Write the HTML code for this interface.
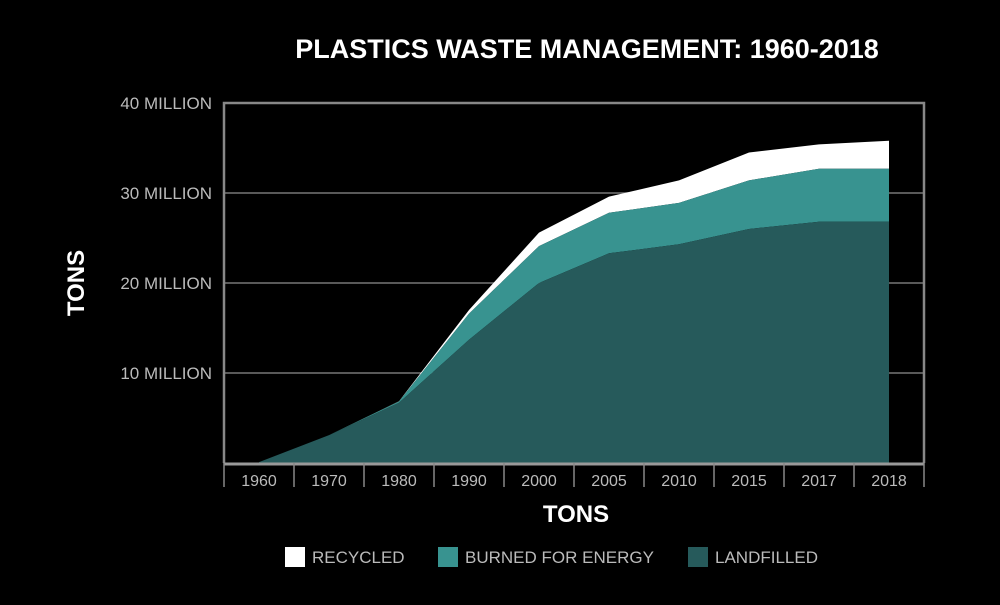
<!DOCTYPE html>
<html><head><meta charset="utf-8"><style>
body{margin:0;background:#000;width:1000px;height:600px;overflow:hidden;font-family:"Liberation Sans",sans-serif}
</style></head><body>
<svg width="1000" height="600" xmlns="http://www.w3.org/2000/svg">
<text x="587" y="58" fill="#fff" font-size="27" font-weight="bold" text-anchor="middle">PLASTICS WASTE MANAGEMENT: 1960-2018</text>
<g id="grid"></g>
<g id="areas"></g>
<g id="axes"></g>
<text transform="translate(84,283) rotate(-90)" fill="#fff" font-size="24" font-weight="bold" text-anchor="middle">TONS</text>
<text x="576" y="522" fill="#fff" font-size="24" font-weight="bold" text-anchor="middle">TONS</text>
<g>
<rect x="285" y="547" width="20" height="20" fill="#fff"/>
<text x="312" y="563" fill="#bbb" font-size="17">RECYCLED</text>
<rect x="438" y="547" width="20" height="20" fill="#389390"/>
<text x="465" y="563" fill="#bbb" font-size="17">BURNED FOR ENERGY</text>
<rect x="688" y="547" width="20" height="20" fill="#265a5b"/>
<text x="715" y="563" fill="#bbb" font-size="17">LANDFILLED</text>
</g>
</svg>
<script>
const categories=["1960","1970","1980","1990","2000","2005","2010","2015","2017","2018"];
const landfilled=[0.1,3.1,6.7,13.7,20.0,23.3,24.3,26.0,26.8,26.8];
const burned=[0,0,0.14,2.9,4.1,4.5,4.6,5.4,5.9,5.9];
const recycled=[0,0,0.02,0.4,1.5,1.8,2.5,3.1,2.7,3.1];
const yTicks=[10,20,30,40];
const yTickLabels=["10 MILLION","20 MILLION","30 MILLION","40 MILLION"];
const L=224,R=924,T=103,B=463,band=(R-L)/categories.length;
const x=i=>L+band*(i+0.5);
const y=v=>B-v*(B-T)/40;
const NS="http://www.w3.org/2000/svg";
function mk(tag,attrs,parent){const e=document.createElementNS(NS,tag);for(const k in attrs)e.setAttribute(k,attrs[k]);parent.appendChild(e);return e;}
const grid=document.getElementById('grid'),areas=document.getElementById('areas'),axes=document.getElementById('axes');
yTicks.forEach((t,i)=>{
 const l=mk('line',{x1:L,x2:R,y1:y(t),y2:y(t),stroke:'#777','stroke-width':1.5},grid);
 
 
 const tx=mk('text',{x:212,y:y(t)+6,fill:'#bbb','font-size':17,'text-anchor':'end'},grid);
 tx.textContent=yTickLabels[i];
 
 
});
function area(top,bot,fill,name){
 let d='';top.forEach((v,i)=>{d+=(i?'L':'M')+x(i)+','+y(v);});
 for(let i=bot.length-1;i>=0;i--)d+='L'+x(i)+','+y(bot[i]);
 const p=mk('path',{d:d+'Z',fill:fill},areas);
 
 
}
const s1=landfilled.map((v,i)=>v+burned[i]);
const s2=s1.map((v,i)=>v+recycled[i]);
const zero=landfilled.map(()=>0);
area(s2,s1,'#fff','area-recycled');
area(s1,landfilled,'#389390','area-burned');
area(landfilled,zero,'#265a5b','area-landfilled');
const fr=mk('path',{d:`M${L},${B}V${T}H${R}V${B}`,fill:'none',stroke:'#888','stroke-width':2.5},axes);


const ax=mk('line',{x1:L,x2:R,y1:B+1,y2:B+1,stroke:'#999','stroke-width':3},axes);


for(let i=0;i<=categories.length;i++){
 const t=mk('line',{x1:L+band*i,x2:L+band*i,y1:B,y2:B+24,stroke:'#888','stroke-width':1.5},axes);
 
 
}
categories.forEach((c,i)=>{
 const t=mk('text',{x:x(i),y:B+23,fill:'#bbb','font-size':16,'text-anchor':'middle'},axes);
 t.textContent=c;
 
 
});
</script>
</body></html>
